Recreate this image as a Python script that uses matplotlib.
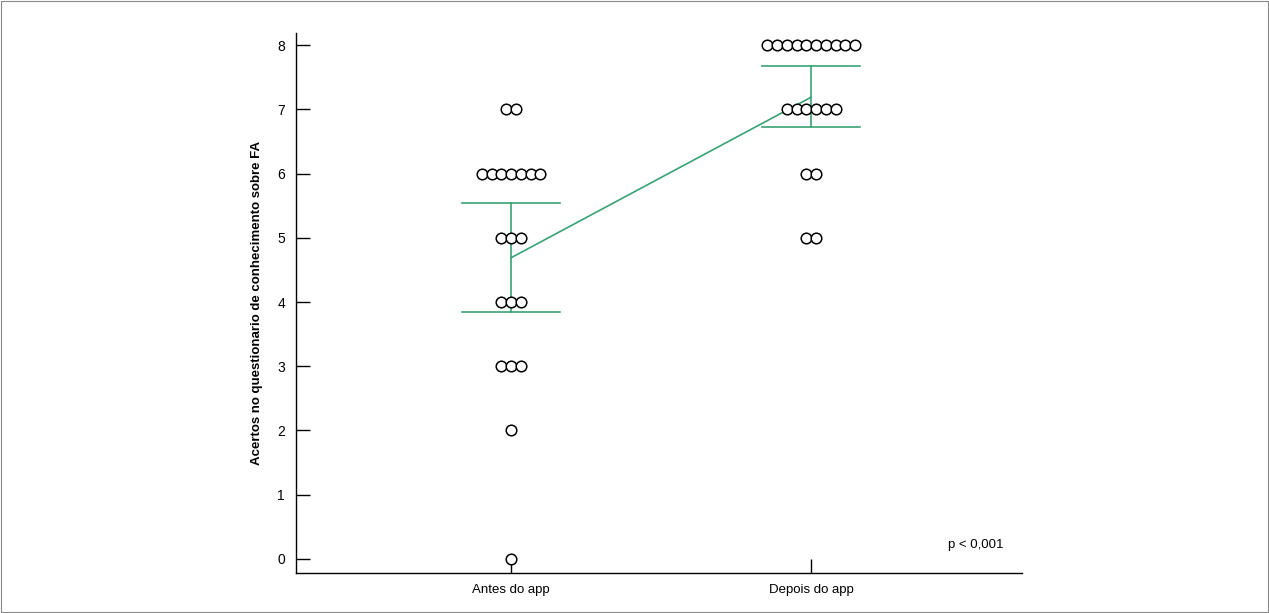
import matplotlib.pyplot as plt
import numpy as np

plt.rcParams['font.family'] = ['Liberation Sans', 'DejaVu Sans']

groups = ['Antes do app', 'Depois do app']
# score -> number of participants
antes_scores = [0, 2, 3, 4, 5, 6, 7]
antes_counts = [1, 1, 3, 3, 3, 7, 2]
depois_scores = [5, 6, 7, 8]
depois_counts = [2, 2, 6, 10]
means = [4.69, 7.19]
ci_low = [3.84, 6.72]
ci_high = [5.54, 7.67]

green = '#38a374'
dx = 0.0325

fig = plt.figure(figsize=(12.69, 6.13), dpi=100)
ax = fig.add_axes([0.2333, 0.0653, 0.5721, 0.8809])

for gi, (scores, counts) in enumerate([(antes_scores, antes_counts), (depois_scores, depois_counts)]):
    for s, c in zip(scores, counts):
        xs = gi + (np.arange(c) - (c - 1) / 2) * dx
        ax.scatter(xs, [s] * c, s=58, facecolors='white', edgecolors='black',
                   linewidths=1.1, zorder=3)

# mean and interval
ax.plot([0, 1], means, color=green, linewidth=1.2, zorder=2)
for gi in range(2):
    ax.plot([gi, gi], [ci_low[gi], ci_high[gi]], color=green, linewidth=1.2, zorder=2)
    for v in (ci_low[gi], ci_high[gi]):
        ax.plot([gi - 0.163, gi + 0.163], [v, v], color=green, linewidth=1.2, zorder=2)

ax.set_xlim(-0.717, 1.703)
ax.set_ylim(-0.22, 8.19)
ax.set_xticks([0, 1])
ax.set_xticklabels(groups)
ax.set_yticks(range(0, 9))
ax.spines['top'].set_visible(False)
ax.spines['right'].set_visible(False)
ax.spines['left'].set_linewidth(1.0)
ax.spines['bottom'].set_linewidth(1.0)
ax.tick_params(axis='y', direction='in', length=10, width=1, pad=8, labelsize=10)
ax.tick_params(axis='x', direction='in', length=10, width=1, pad=8, labelsize=9.5)
ax.set_ylabel('Acertos no questionario de conhecimento sobre FA', fontsize=9.5,
              fontweight='bold', labelpad=10)
ax.text(1.547, 0.22, 'p < 0,001', fontsize=9.5, ha='center', va='center')

fig.patches.append(plt.Rectangle((0.001, 0.002), 0.998, 0.996, transform=fig.transFigure,
                                 fill=False, edgecolor='#888888', linewidth=0.8))

plt.savefig('out.png')
